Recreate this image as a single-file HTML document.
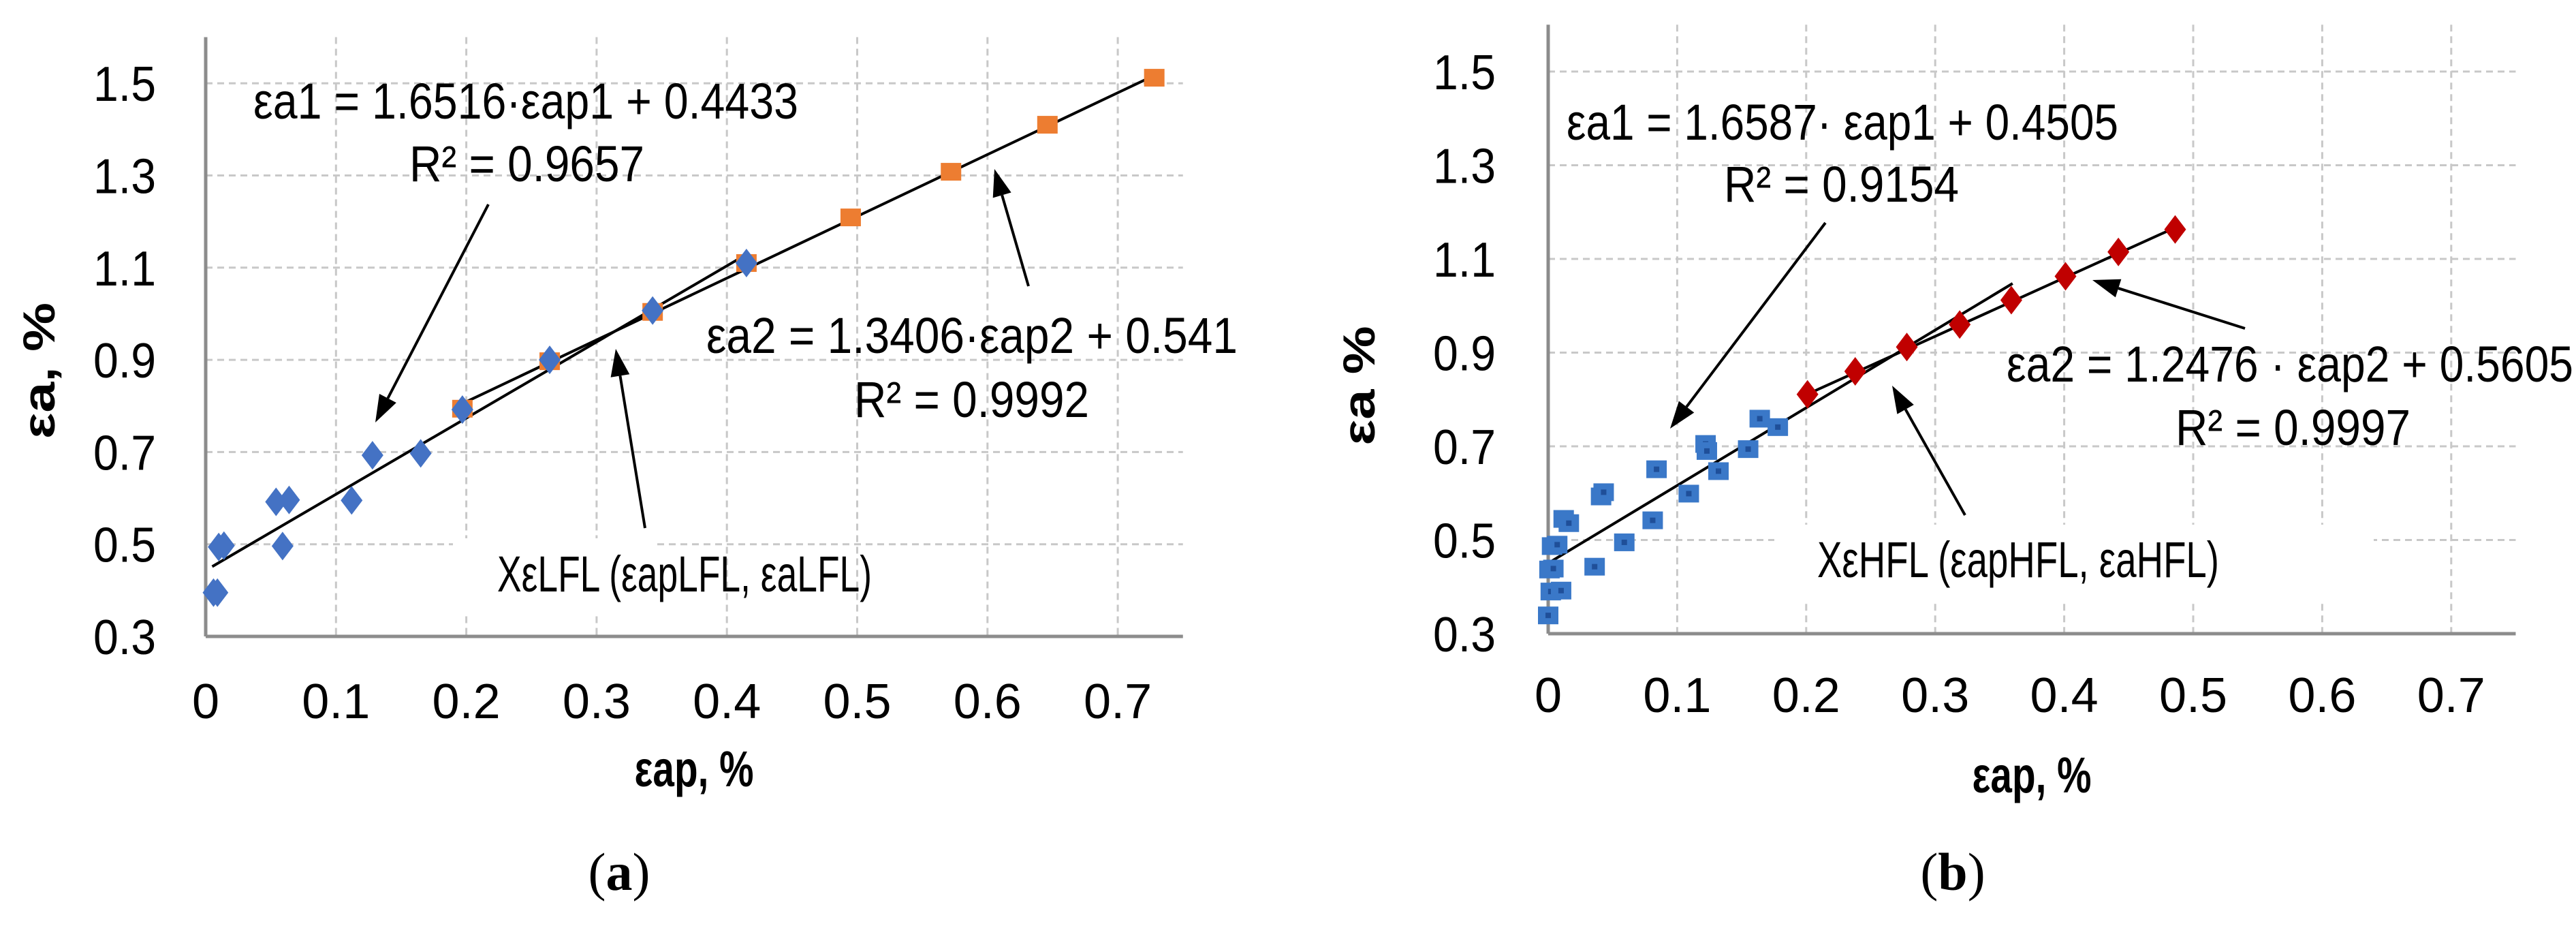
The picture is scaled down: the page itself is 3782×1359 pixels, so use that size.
<!DOCTYPE html>
<html><head><meta charset="utf-8"><style>
html,body{margin:0;padding:0;background:#fff;}
svg{display:block;font-family:"Liberation Sans",sans-serif;}
</style></head><body>
<svg id="s" width="3782" height="1359" viewBox="0 0 3782 1359" xmlns="http://www.w3.org/2000/svg"></svg>
<script>
// ---- Chart (a) data ----
const aBlueX=[0.006,0.009,0.010,0.014,0.054,0.064,0.059,0.112,0.128,0.165,0.197,0.264,0.343,0.415];
const aBlueY=[0.395,0.395,0.494,0.497,0.592,0.596,0.496,0.595,0.693,0.697,0.792,0.900,1.007,1.110];
const aOrX=[0.197,0.264,0.343,0.415,0.495,0.572,0.646,0.728];
const aOrY=[0.794,0.897,1.004,1.110,1.209,1.308,1.410,1.512];
const aFit1=[1.6516,0.4433,0.005,0.415];
const aFit2=[1.3406,0.541,0.197,0.730];
// ---- Chart (b) data ----
const bBlueX=[0,0.002,0.010,0.001,0.004,0.003,0.007,0.012,0.016,0.036,0.041,0.043,0.059,0.081,0.084,0.109,0.122,0.123,0.132,0.155,0.164,0.178];
const bBlueY=[0.339,0.390,0.392,0.437,0.439,0.487,0.490,0.545,0.536,0.443,0.593,0.602,0.495,0.542,0.651,0.599,0.705,0.690,0.647,0.694,0.759,0.741];
const bRedX=[0.201,0.238,0.278,0.319,0.359,0.401,0.442,0.486];
const bRedY=[0.811,0.860,0.912,0.960,1.012,1.063,1.115,1.163];
const bFit1=[1.6587,0.4505,0,0.36];
const bFit2=[1.2476,0.5605,0.2,0.486];
const xTicks=["0","0.1","0.2","0.3","0.4","0.5","0.6","0.7"];
const yTicks=["0.3","0.5","0.7","0.9","1.1","1.3","1.5"];

const NS="http://www.w3.org/2000/svg";
const svg=document.getElementById('s');
function mk(tag,at,parent){const e=document.createElementNS(NS,tag);for(const k in at)e.setAttribute(k,at[k]);(parent||svg).appendChild(e);return e;}
function txt(str,x,y,size,len,anchor,extra){
  const t=mk('text',Object.assign({x:x,y:y,'font-size':size,'text-anchor':anchor||'start',fill:'#000'},extra||{}));
  if(len){t.setAttribute('textLength',len);t.setAttribute('lengthAdjust','spacingAndGlyphs');}
  t.textContent=str;return t;
}
function chart(cfg){
  const g=mk('g',{});
  
  
  const X=v=>cfg.x0+v/0.1*cfg.dx;
  const Y=v=>cfg.y3-(v-0.3)/0.2*cfg.dy;
  const xr=X(0.75), yt=Y(1.6);
  for(let i=1;i<xTicks.length;i++){const l=mk('line',{x1:X(i*0.1),x2:X(i*0.1),y1:yt,y2:cfg.y3,stroke:'#c8c8c8','stroke-width':3,'stroke-dasharray':'10,7'},g);}
  for(let i=1;i<yTicks.length;i++){const v=0.3+i*0.2;const l=mk('line',{x1:cfg.x0,x2:xr,y1:Y(v),y2:Y(v),stroke:'#c8c8c8','stroke-width':3,'stroke-dasharray':'10,7'},g);}
  mk('rect',{x:cfg.gap[0],y:cfg.gap[1],width:cfg.gap[2],height:cfg.gap[3],fill:'#fff'},g);
  const ax=mk('line',{x1:cfg.x0,x2:cfg.x0,y1:yt,y2:cfg.y3,stroke:'#8c8c8c','stroke-width':5},g);
  
  const ax2=mk('line',{x1:cfg.x0,x2:xr,y1:cfg.y3,y2:cfg.y3,stroke:'#8c8c8c','stroke-width':5},g);
  
  xTicks.forEach((s,i)=>{const t=txt(s,X(i*0.1),cfg.xlabY,72,null,'middle');g.appendChild(t);});
  yTicks.forEach((s,i)=>{const t=txt(s,cfg.ylabX,Y(0.3+i*0.2)+26,72,92,'end');g.appendChild(t);});
  [cfg.f1,cfg.f2].forEach(f=>{const l=mk('line',{x1:X(f[2]),y1:Y(f[0]*f[2]+f[1]),x2:X(f[3]),y2:Y(f[0]*f[3]+f[1]),stroke:'#000','stroke-width':4},g);});
  function diamond(x,y,c){const p=mk('polygon',{points:`${x},${y-21} ${x+16},${y} ${x},${y+21} ${x-16},${y}`,fill:c},g);}
  function square(x,y,c,inner){const p=mk('rect',{x:x-15,y:y-13,width:30,height:26,fill:c},g);if(inner)mk('rect',{x:x-4,y:y-4,width:8,height:8,fill:inner},g);}
  cfg.draw(X,Y,diamond,square);
  cfg.arrows.forEach(a=>{
    const [x1,y1,x2,y2]=a;const ang=Math.atan2(y2-y1,x2-x1);const L=40,W=14;
    const bx=x2-L*Math.cos(ang),by=y2-L*Math.sin(ang);
    const l=mk('line',{x1:x1,y1:y1,x2:bx,y2:by,stroke:'#000','stroke-width':4},g);
    
    mk('polygon',{points:`${x2},${y2} ${bx+W*Math.sin(ang)},${by-W*Math.cos(ang)} ${bx-W*Math.sin(ang)},${by+W*Math.cos(ang)}`,fill:'#000'},g);
  });
  cfg.texts.forEach(t=>{const e=txt(t[0],t[1],t[2],74,t[3],'start');g.appendChild(e);});
  const xt=txt(cfg.xtitle,cfg.xtX,cfg.xtY,74,175,'middle',{'font-weight':'bold'});
  g.appendChild(xt);
  const yt2=txt(cfg.ytitle,0,0,66,cfg.ytLen,'middle',{'font-weight':'bold',transform:`translate(${cfg.ytX},${cfg.ytY}) rotate(-90)`});
  g.appendChild(yt2);
  const cap=mk('text',{x:cfg.capX,y:1306,'font-size':78,'text-anchor':'middle','font-family':'Liberation Serif, serif'},g);
  
  cap.innerHTML='(<tspan font-weight="bold">'+cfg.cap+'</tspan>)';
}
chart({name:'chart-a',x0:302,dx:191.3,y3:934,dy:135.3,xlabY:1054,ylabX:229,f1:aFit1,f2:aFit2,
  gap:[665,790,300,110],
  draw:(X,Y,d,s)=>{aOrX.forEach((v,i)=>s(X(v),Y(aOrY[i]),'#ed7d31'));aBlueX.forEach((v,i)=>d(X(v),Y(aBlueY[i]),'#4472c4'));},
  arrows:[[717,300,551,620],[1510,420,1460,248],[947,775,904,512]],
  texts:[["εa1 = 1.6516·εap1 + 0.4433",372,174,800,'equation-1'],["R² = 0.9657",601,266,345,'r-squared-1'],
         ["εa2 = 1.3406·εap2 + 0.541",1037,518,780,'equation-2'],["R² = 0.9992",1254,612,345,'r-squared-2'],
         ["XεLFL (εapLFL, εaLFL)",730,868,550,'intersection-label']],
  xtitle:"εap, %",xtX:1019,xtY:1154,ytitle:"εa, %",ytX:80,ytY:544,ytLen:200,capX:909,cap:'a'});
chart({name:'chart-b',x0:2273,dx:189.4,y3:930,dy:137.5,xlabY:1045,ylabX:2196,f1:bFit1,f2:bFit2,
  gap:[2605,770,880,110],
  draw:(X,Y,d,s)=>{bBlueX.forEach((v,i)=>s(X(v),Y(bBlueY[i]),'#3a78c8','#1f4f99'));bRedX.forEach((v,i)=>d(X(v),Y(bRedY[i]),'#c00000'));},
  arrows:[[2680,327,2452,629],[3296,482,3072,411],[2885,756,2778,566]],
  texts:[["εa1 = 1.6587· εap1 + 0.4505",2300,205,810,'equation-1'],["R² = 0.9154",2531,296,345,'r-squared-1'],
         ["εa2 = 1.2476 · εap2 + 0.5605",2946,560,832,'equation-2'],["R² = 0.9997",3194,653,345,'r-squared-2'],
         ["XεHFL (εapHFL, εaHFL)",2668,847,590,'intersection-label']],
  xtitle:"εap, %",xtX:2983,xtY:1163,ytitle:"εa %",ytX:2018,ytY:566,ytLen:175,capX:2867,cap:'b'});
</script>
</body></html>
